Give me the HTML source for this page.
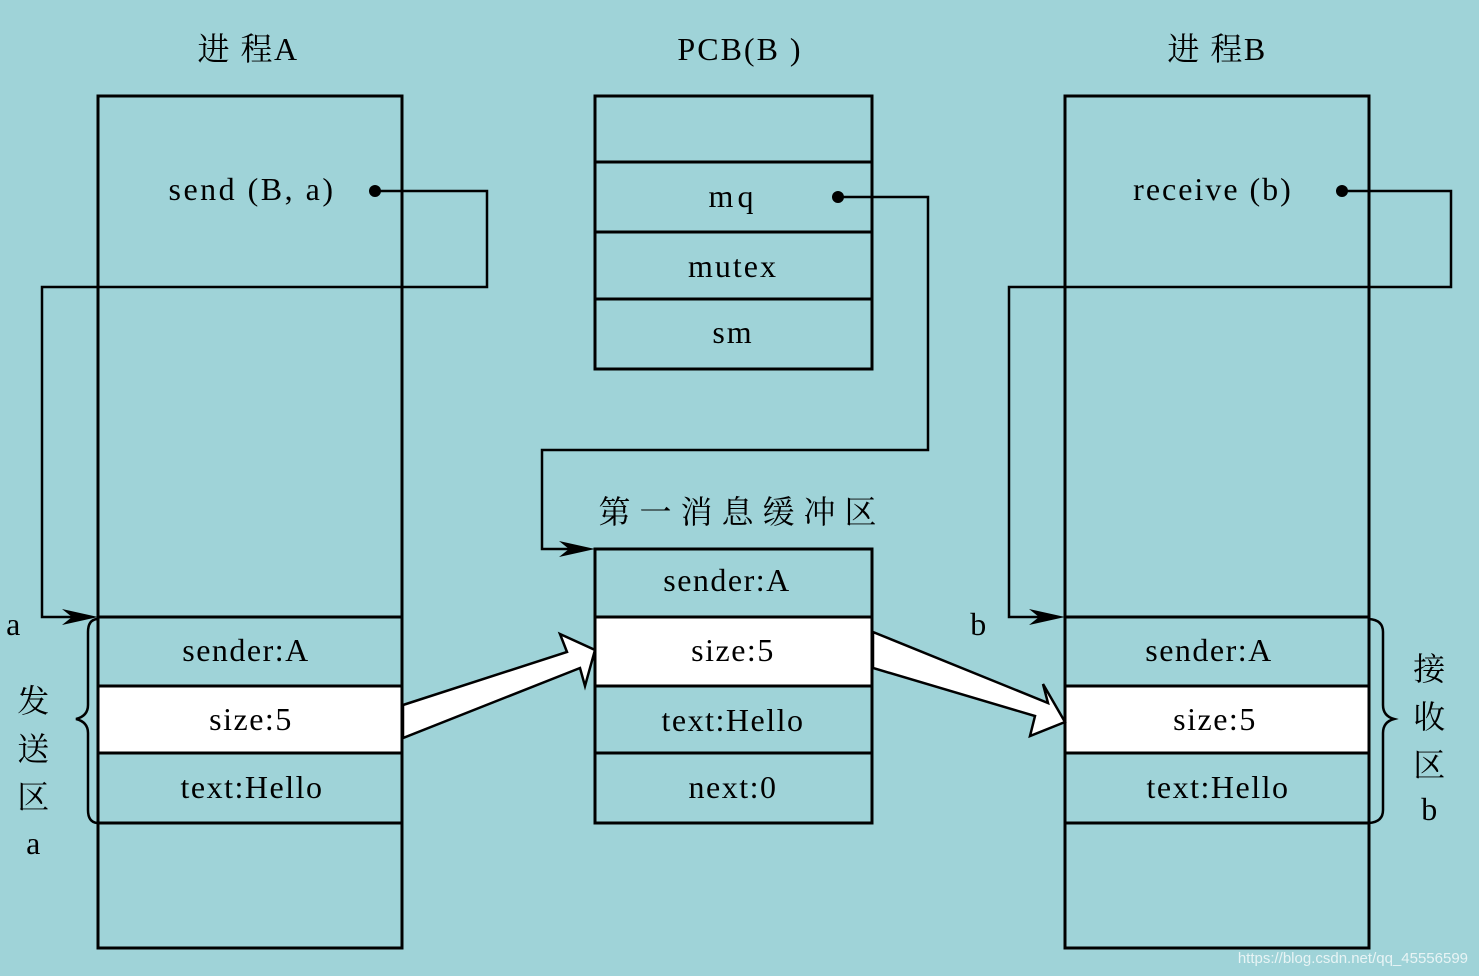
<!DOCTYPE html>
<html><head><meta charset="utf-8"><style>
html,body{margin:0;padding:0;background:#9fd3d8;}
svg{display:block}
text{font-family:"Liberation Serif","Noto Serif CJK SC",serif;fill:#000}
</style></head><body>
<svg width="1479" height="976" viewBox="0 0 1479 976" xmlns="http://www.w3.org/2000/svg">
<rect width="1479" height="976" fill="#9fd3d8"/>
<g fill="none" stroke="#000" stroke-width="3">
<rect x="98" y="96" width="304" height="852"/>
<rect x="98" y="686" width="304" height="67" fill="#fff"/>
<line x1="98" y1="617" x2="402" y2="617"/>
<line x1="98" y1="823" x2="402" y2="823"/>
<rect x="595" y="96" width="277" height="273"/>
<line x1="595" y1="162" x2="872" y2="162"/>
<line x1="595" y1="232" x2="872" y2="232"/>
<line x1="595" y1="299" x2="872" y2="299"/>
<rect x="595" y="549" width="277" height="274"/>
<rect x="595" y="617" width="277" height="69" fill="#fff"/>
<line x1="595" y1="753" x2="872" y2="753"/>
<rect x="1065" y="96" width="304" height="852"/>
<rect x="1065" y="686" width="304" height="67" fill="#fff"/>
<line x1="1065" y1="617" x2="1369" y2="617"/>
<line x1="1065" y1="823" x2="1369" y2="823"/>
</g>
<g fill="none" stroke="#000" stroke-width="2.5">
<polyline points="375,191 487,191 487,287 42,287 42,617 80,617"/>
<polyline points="838,197 928,197 928,450 542,450 542,549 575,549"/>
<polyline points="1342,191 1451,191 1451,287 1009,287 1009,617 1045,617"/>
<path d="M97,619 Q88,620 88,632 L88,705 Q88,716 76,719 Q88,722 88,733 L88,810 Q88,822 97,823"/>
<path d="M1369,619 Q1383,620 1383,632 L1383,705 Q1383,716 1394,719 Q1383,722 1383,733 L1383,810 Q1383,822 1369,823"/>
</g>
<g fill="#000">
<circle cx="375" cy="191" r="6"/>
<circle cx="838" cy="197" r="6"/>
<circle cx="1342" cy="191" r="6"/>
<polygon points="98,617 62,609 72,617 62,625"/>
<polygon points="595,549 559,541 569,549 559,557"/>
<polygon points="1065,617 1029,609 1039,617 1029,625"/>
</g>
<polygon points="403,705 567,652 560,634 595,650 585,686 580,668 403,738" fill="#fff" stroke="#000" stroke-width="2.5"/>
<polygon points="873,632 1048,703 1043,684 1065,722 1030,736 1035,716 873,668" fill="#fff" stroke="#000" stroke-width="2.5"/>
<g font-size="32" text-anchor="middle" letter-spacing="1.5">
<text x="248" y="60">进 程A</text>
<text x="740" y="60" letter-spacing="2">PCB(B )</text>
<text x="1217" y="60">进 程B</text>
<text x="252" y="200" letter-spacing="2.5">send  (B,  a)</text>
<text x="1213" y="200" letter-spacing="2">receive  (b)</text>
<text x="733" y="207" letter-spacing="4">mq</text>
<text x="733" y="277" letter-spacing="2">mutex</text>
<text x="733" y="343" letter-spacing="2">sm</text>
<text x="742" y="523" letter-spacing="9">第一消息缓冲区</text>
<text x="246" y="661">sender:A</text>
<text x="251" y="730">size:5</text>
<text x="252" y="798">text:Hello</text>
<text x="727" y="591">sender:A</text>
<text x="733" y="661">size:5</text>
<text x="733" y="731">text:Hello</text>
<text x="733" y="798">next:0</text>
<text x="1209" y="661">sender:A</text>
<text x="1215" y="730">size:5</text>
<text x="1218" y="798">text:Hello</text>
<text x="14" y="635">a</text>
<text x="34" y="712">发</text>
<text x="34" y="760">送</text>
<text x="34" y="808">区</text>
<text x="34" y="854">a</text>
<text x="979" y="635">b</text>
<text x="1430" y="680">接</text>
<text x="1430" y="728">收</text>
<text x="1430" y="776">区</text>
<text x="1430" y="820">b</text>
</g>
<text x="1468" y="963" font-size="15" text-anchor="end" style="font-family:'Liberation Sans',sans-serif;fill:#e8f4f5">https://blog.csdn.net/qq_45556599</text>
</svg>
</body></html>
